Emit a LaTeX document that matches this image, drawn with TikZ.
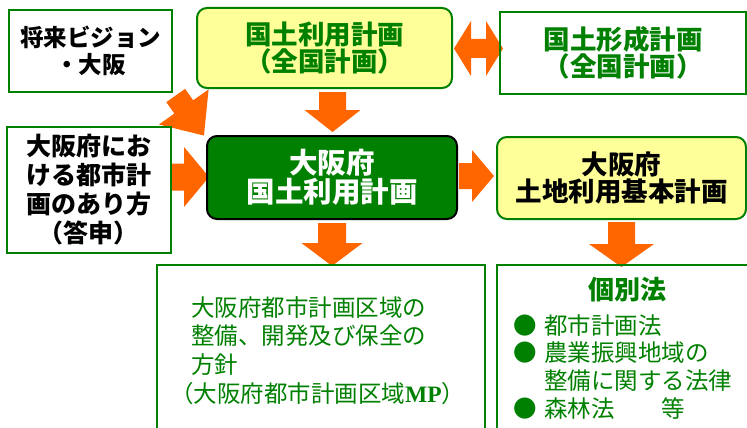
\documentclass[tikz,border=0pt]{standalone}
\usepackage{fontspec}
\newfontfamily\jp{Noto Sans CJK JP}
\newfontfamily\serifmp{Liberation Serif}
\usetikzlibrary{calc,backgrounds}
\definecolor{dgreen}{RGB}{0,128,0}
\definecolor{lyellow}{RGB}{255,255,153}
\definecolor{orng}{RGB}{255,102,0}
% #1 start, #2 angle, #3 length, #4 shaft half width, #5 head half width, #6 head length
\newcommand\blockarr[6]{\fill[orng,shift={#1},rotate=#2] (0,-#4) -- ({#3-#6},-#4) -- ({#3-#6},-#5) -- (#3,0) -- ({#3-#6},#5) -- ({#3-#6},#4) -- (0,#4) -- cycle;}
\begin{document}
\begin{tikzpicture}[x=1pt,y=-1pt,
  box/.style={draw=dgreen, line width=2pt, inner sep=0pt, anchor=center, align=center},
  rbox/.style={box, rounded corners=10pt}]
\useasboundingbox (0,0) rectangle (747,428);
\clip (0,0) rectangle (747,428);

\node[box, minimum width=163pt, minimum height=82pt,
  font=\jp\bfseries\fontsize{23.5}{27}\selectfont] (vis) at (90.5,51) {将来ビジョン\\・大阪};
\node[rbox, fill=lyellow, minimum width=255pt, minimum height=80pt, text=dgreen,
  font=\jp\bfseries\fontsize{26.5}{27.5}\selectfont] (zk) at (324.5,48) {国土利用計画\\（全国計画）};
\node[box, minimum width=246pt, minimum height=82pt, text=dgreen,
  font=\jp\bfseries\fontsize{26.5}{26.5}\selectfont] (kk) at (623,53) {国土形成計画\\（全国計画）};
\node[box, minimum width=164pt, minimum height=126pt,
  font=\jp\bfseries\fontsize{25}{29}\selectfont] (tou) at (89,190) {大阪府にお\\ける都市計\\画のあり方\\（答申）};
\node[rbox, draw=black, fill=dgreen, text=white, minimum width=250pt, minimum height=83pt,
  font=\jp\bfseries\fontsize{28.5}{28.5}\selectfont] (os) at (332,177.5) {大阪府\\国土利用計画};
\node[rbox, fill=lyellow, minimum width=249pt, minimum height=82pt,
  font=\jp\bfseries\fontsize{26.5}{27}\selectfont] (kihon) at (621.5,178) {大阪府\\土地利用基本計画};

\node[box, minimum width=328pt, minimum height=180pt] (mp) at (321,355) {};
\node[box, minimum width=270pt, minimum height=180pt] (ko) at (632,355) {};

\node[anchor=north west, inner sep=0pt, align=left, text=dgreen,
  font=\jp\fontsize{23.5}{28.7}\selectfont] (mptxt) at (191,296)
  {大阪府都市計画区域の\\整備、開発及び保全の\\方針\\\hspace*{-21pt}（大阪府都市計画区域{\serifmp\bfseries MP}）};

\node[anchor=center, inner sep=0pt, text=dgreen,
  font=\jp\bfseries\fontsize{26}{27}\selectfont] (kotitle) at (627,290) {個別法};
\node[anchor=north west, inner sep=0pt, align=left, text=dgreen,
  font=\jp\fontsize{23.5}{27.7}\selectfont] (kolist) at (513,314)
  {\makebox[31pt][l]{●}都市計画法\\\makebox[31pt][l]{●}農業振興地域の\\\hspace*{31pt}整備に関する法律\\\makebox[31pt][l]{●}森林法　　等};

\begin{pgfonlayer}{background}
\fill[white] (0,0) rectangle (747,428);
\blockarr{($(os.north)+(0.5,-43)$)}{-90}{40}{13.5}{28}{22}
\blockarr{($(os.south)+(0,3)$)}{-90}{43}{14}{30.5}{23}
\blockarr{($(os.east)+(1,-1.5)$)}{0}{35}{13}{26}{22}
\blockarr{($(tou.east |- os.west)+(0,-0.5)$)}{0}{37}{13.5}{30}{25}
\blockarr{($(vis.south east)+(2.7,2.5)$)}{-54.8}{49}{11.5}{30.4}{35}
\blockarr{($(kihon.south)+(0,2)$)}{-90}{45}{13.5}{32.5}{23}
\fill[orng, shift={($(zk.east)+(1,0.5)$)}] (0,0) -- (17,-27.5) -- (17,-9.5) -- (32,-9.5) -- (32,-27.5) -- (49,0) -- (32,27.5) -- (32,9.5) -- (17,9.5) -- (17,27.5) -- cycle;
\end{pgfonlayer}
\end{tikzpicture}
\end{document}
